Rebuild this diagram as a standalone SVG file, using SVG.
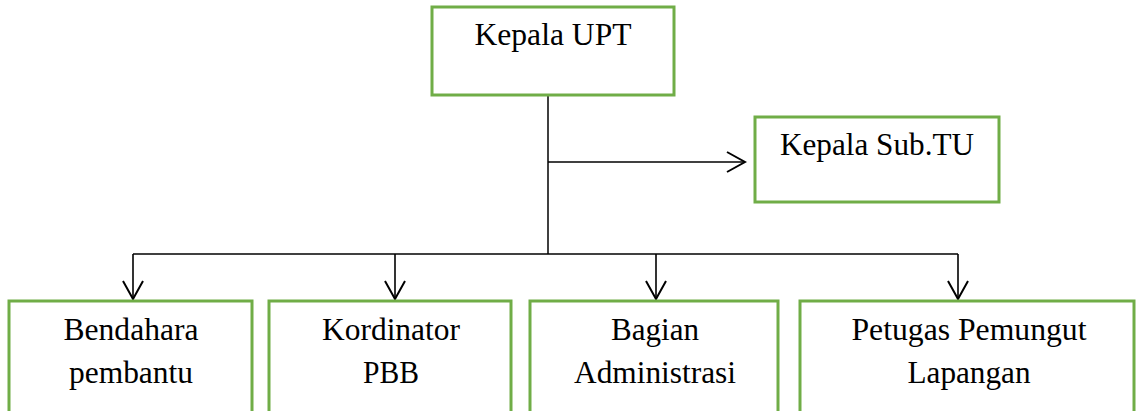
<svg xmlns="http://www.w3.org/2000/svg" width="1137" height="411" viewBox="0 0 1137 411">
  <style>
    .box { fill: #ffffff; stroke: #70AD47; stroke-width: 3; }
    .lbl { font-family: "Liberation Serif", serif; font-size: 31px; fill: #000000; text-anchor: middle; }
    .con { fill: none; stroke: #000000; stroke-width: 1.5; }
    .arr { fill: none; stroke: #000000; stroke-width: 1.6; marker-end: url(#head); }
  </style>
  <defs>
    <marker id="head" markerUnits="userSpaceOnUse" markerWidth="22" markerHeight="24" viewBox="-2 -2 22 24" refX="18" refY="10" orient="auto">
      <path d="M0,0 L18,10 L0,20" fill="none" stroke="#000000" stroke-width="2"/>
    </marker>
  </defs>
  <rect width="1137" height="411" fill="#ffffff"/>

  <g id="connectors">
    <path class="con" d="M548,95 V254"/>
    <path class="arr" d="M548,162 H745"/>
    <path class="con" d="M133,254 H958"/>
    <path class="arr" d="M133,254 V299"/>
    <path class="arr" d="M395,254 V299"/>
    <path class="arr" d="M656,254 V299"/>
    <path class="arr" d="M958,254 V299"/>
  </g>

  <g id="kepala-upt">
    <rect class="box" x="432" y="7" width="242" height="88"/>
    <text class="lbl" x="553" y="45" textLength="157" lengthAdjust="spacingAndGlyphs">Kepala UPT</text>
  </g>

  <g id="kepala-sub-tu">
    <rect class="box" x="755" y="117" width="244" height="85"/>
    <text class="lbl" x="877" y="155" textLength="194" lengthAdjust="spacingAndGlyphs">Kepala Sub.TU</text>
  </g>

  <g id="bendahara">
    <rect class="box" x="9" y="301" width="243" height="130"/>
    <text class="lbl" x="131" y="340" textLength="135" lengthAdjust="spacingAndGlyphs">Bendahara</text>
    <text class="lbl" x="131" y="383" textLength="124" lengthAdjust="spacingAndGlyphs">pembantu</text>
  </g>

  <g id="kordinator">
    <rect class="box" x="269" y="301" width="242" height="130"/>
    <text class="lbl" x="391" y="340" textLength="138" lengthAdjust="spacingAndGlyphs">Kordinator</text>
    <text class="lbl" x="391" y="383" textLength="56" lengthAdjust="spacingAndGlyphs">PBB</text>
  </g>

  <g id="bagian-administrasi">
    <rect class="box" x="530" y="301" width="248" height="130"/>
    <text class="lbl" x="655" y="340" textLength="88" lengthAdjust="spacingAndGlyphs">Bagian</text>
    <text class="lbl" x="655" y="383" textLength="162" lengthAdjust="spacingAndGlyphs">Administrasi</text>
  </g>

  <g id="petugas">
    <rect class="box" x="800" y="301" width="334" height="130"/>
    <text class="lbl" x="969" y="340" textLength="235" lengthAdjust="spacingAndGlyphs">Petugas Pemungut</text>
    <text class="lbl" x="969" y="383" textLength="123" lengthAdjust="spacingAndGlyphs">Lapangan</text>
  </g>
</svg>
